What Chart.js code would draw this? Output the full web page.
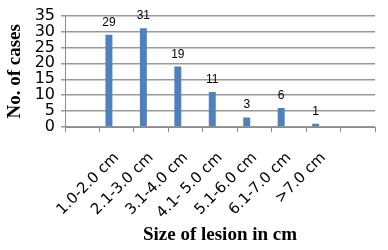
<!DOCTYPE html>
<html>
<head>
<meta charset="utf-8">
<script src="https://cdn.jsdelivr.net/npm/chart.js@4/dist/chart.umd.min.js"></script>
<style>
  html, body { margin: 0; padding: 0; background: #fff; }
  #wrap { width: 388px; height: 250px; }
</style>
</head>
<body>
<div id="wrap"><canvas id="chart" width="388" height="250"></canvas></div>
<script>
// categories (empty slots at both ends, as in the original)
const sizes = ['', '1.0-2.0 cm', '2.1-3.0 cm', '3.1-4.0 cm', '4.1- 5.0 cm', '5.1-6.0 cm', '6.1-7.0 cm', '>7.0 cm', '']
const cases = [null, 29, 31, 19, 11, 3, 6, 1, null]
const emptySeries = [null, null, null, null, null, null, null, null, null]
const yTicks = [0, 5, 10, 15, 20, 25, 30, 35]

// draws the value above each bar
const valueLabels = {
    id: 'valueLabels',
    afterDatasetsDraw(chart) {
        const ctx = chart.ctx
        const meta = chart.getDatasetMeta(0)
        ctx.save()
        ctx.font = '12px "Liberation Sans", Arial, sans-serif'
        ctx.fillStyle = '#000'
        ctx.textAlign = 'center'
        ctx.textBaseline = 'alphabetic'
        meta.data.forEach((bar, i) => {
            const v = cases[i]
            if (v === null) return
            ctx.fillText(String(v), bar.x, bar.y - 9)
        })
        ctx.restore()
    }
}

new Chart(document.getElementById('chart'), {
    type: 'bar',
    data: {
        labels: sizes,
        datasets: [
            {
                label: 'No. of cases',
                data: cases,
                backgroundColor: '#4f81bd',
                categoryPercentage: 0.9,
                barPercentage: 0.45
            },
            {
                label: '',
                data: emptySeries,
                backgroundColor: '#c0504d',
                categoryPercentage: 0.9,
                barPercentage: 0.45
            }
        ]
    },
    options: {
        responsive: false,
        animation: false,
        events: [],
        layout: { padding: { top: 12, right: 8, left: 0, bottom: 0 } },
        plugins: {
            legend: { display: false },
            tooltip: { enabled: false }
        },
        scales: {
            x: {
                offset: true,
                grid: {
                    offset: true,
                    drawOnChartArea: false,
                    drawTicks: true,
                    tickLength: 5,
                    color: '#8c8c8c'
                },
                border: { color: '#8c8c8c' },
                ticks: {
                    autoSkip: false,
                    minRotation: 45,
                    maxRotation: 45,
                    padding: 17,
                    color: '#000',
                    font: { family: '"DejaVu Sans", sans-serif', size: 15 }
                },
                title: {
                    display: true,
                    text: 'Size of lesion in cm',
                    color: '#000',
                    font: { family: '"Liberation Serif", "Times New Roman", serif', size: 19, weight: 'bold' },
                    padding: { top: 0, bottom: 4 }
                },
                afterFit(scale) { scale.height = 123 }
            },
            y: {
                min: yTicks[0],
                max: yTicks[yTicks.length - 1],
                grid: {
                    color: '#999999',
                    lineWidth: 1.5,
                    drawTicks: true,
                    tickLength: 4
                },
                border: { color: '#8c8c8c' },
                ticks: {
                    stepSize: yTicks[1] - yTicks[0],
                    autoSkip: false,
                    padding: 6,
                    color: '#000',
                    font: { family: '"DejaVu Sans", sans-serif', size: 16 }
                },
                title: {
                    display: true,
                    text: 'No. of cases',
                    color: '#000',
                    font: { family: '"Liberation Serif", "Times New Roman", serif', size: 19, weight: 'bold' },
                    padding: { top: 4, bottom: 0 }
                },
                afterFit(scale) { scale.width = 65 }
            }
        }
    },
    plugins: [valueLabels]
})
</script>
</body>
</html>
